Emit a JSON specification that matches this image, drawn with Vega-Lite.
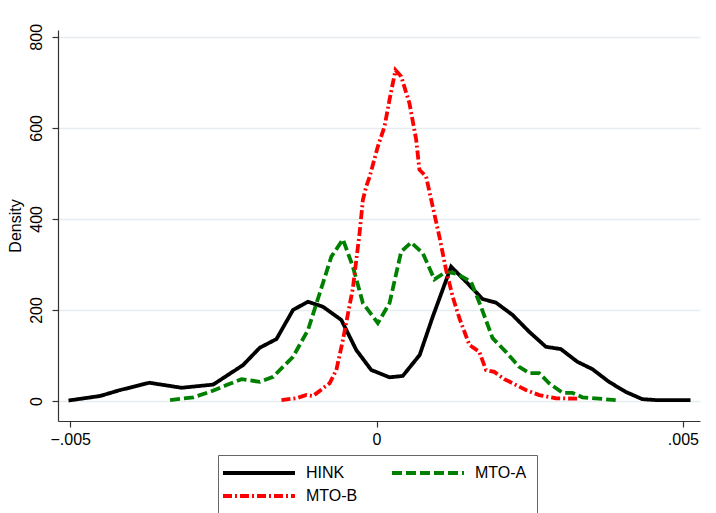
{
  "$schema": "https://vega.github.io/schema/vega-lite/v6.json",
  "width": 642,
  "height": 391,
  "autosize": "none",
  "padding": {"left": 58, "top": 30, "right": 16, "bottom": 92},
  "background": "white",
  "config": {
    "view": {"stroke": null},
    "font": "Liberation Sans"
  },
  "data": {
    "values": [
      {"series": "HINK", "x": -0.005028, "y": 1},
      {"series": "HINK", "x": -0.004511, "y": 11},
      {"series": "HINK", "x": -0.004186, "y": 24},
      {"series": "HINK", "x": -0.003709, "y": 40},
      {"series": "HINK", "x": -0.003181, "y": 29},
      {"series": "HINK", "x": -0.002666, "y": 36},
      {"series": "HINK", "x": -0.002178, "y": 79},
      {"series": "HINK", "x": -0.001906, "y": 117},
      {"series": "HINK", "x": -0.001634, "y": 136},
      {"series": "HINK", "x": -0.001363, "y": 200},
      {"series": "HINK", "x": -0.001119, "y": 218},
      {"series": "HINK", "x": -0.000875, "y": 207},
      {"series": "HINK", "x": -0.000575, "y": 178},
      {"series": "HINK", "x": -0.000331, "y": 112},
      {"series": "HINK", "x": -0.000086, "y": 68},
      {"series": "HINK", "x": 0.000212, "y": 52},
      {"series": "HINK", "x": 0.000428, "y": 55},
      {"series": "HINK", "x": 0.000704, "y": 101},
      {"series": "HINK", "x": 0.000917, "y": 185},
      {"series": "HINK", "x": 0.001217, "y": 295},
      {"series": "HINK", "x": 0.001461, "y": 262},
      {"series": "HINK", "x": 0.001731, "y": 224},
      {"series": "HINK", "x": 0.00195, "y": 216},
      {"series": "HINK", "x": 0.00222, "y": 189},
      {"series": "HINK", "x": 0.002492, "y": 152},
      {"series": "HINK", "x": 0.002764, "y": 119},
      {"series": "HINK", "x": 0.003008, "y": 114},
      {"series": "HINK", "x": 0.003279, "y": 86},
      {"series": "HINK", "x": 0.003523, "y": 70},
      {"series": "HINK", "x": 0.003795, "y": 42},
      {"series": "HINK", "x": 0.004067, "y": 20},
      {"series": "HINK", "x": 0.004337, "y": 4},
      {"series": "HINK", "x": 0.004555, "y": 2},
      {"series": "HINK", "x": 0.005125, "y": 2},
      {"series": "MTO-A", "x": -0.003371, "y": 2},
      {"series": "MTO-A", "x": -0.002992, "y": 8},
      {"series": "MTO-A", "x": -0.00272, "y": 20},
      {"series": "MTO-A", "x": -0.002448, "y": 35},
      {"series": "MTO-A", "x": -0.002204, "y": 48},
      {"series": "MTO-A", "x": -0.001906, "y": 42},
      {"series": "MTO-A", "x": -0.001689, "y": 53},
      {"series": "MTO-A", "x": -0.001363, "y": 97},
      {"series": "MTO-A", "x": -0.001119, "y": 156},
      {"series": "MTO-A", "x": -0.000875, "y": 259},
      {"series": "MTO-A", "x": -0.000738, "y": 317},
      {"series": "MTO-A", "x": -0.000549, "y": 355},
      {"series": "MTO-A", "x": -0.000386, "y": 295},
      {"series": "MTO-A", "x": -0.000223, "y": 215},
      {"series": "MTO-A", "x": 0.000021, "y": 171},
      {"series": "MTO-A", "x": 0.000212, "y": 215},
      {"series": "MTO-A", "x": 0.000402, "y": 328},
      {"series": "MTO-A", "x": 0.000565, "y": 348},
      {"series": "MTO-A", "x": 0.000754, "y": 325},
      {"series": "MTO-A", "x": 0.000945, "y": 267},
      {"series": "MTO-A", "x": 0.001135, "y": 284},
      {"series": "MTO-A", "x": 0.001319, "y": 279},
      {"series": "MTO-A", "x": 0.001542, "y": 262},
      {"series": "MTO-A", "x": 0.001705, "y": 207},
      {"series": "MTO-A", "x": 0.001894, "y": 138},
      {"series": "MTO-A", "x": 0.002112, "y": 108},
      {"series": "MTO-A", "x": 0.002329, "y": 75},
      {"series": "MTO-A", "x": 0.002492, "y": 61},
      {"series": "MTO-A", "x": 0.002655, "y": 61},
      {"series": "MTO-A", "x": 0.002818, "y": 39},
      {"series": "MTO-A", "x": 0.003034, "y": 18},
      {"series": "MTO-A", "x": 0.003197, "y": 18},
      {"series": "MTO-A", "x": 0.00336, "y": 8},
      {"series": "MTO-A", "x": 0.003904, "y": 2},
      {"series": "MTO-B", "x": -0.001552, "y": 2},
      {"series": "MTO-B", "x": -0.001308, "y": 6},
      {"series": "MTO-B", "x": -0.001145, "y": 13},
      {"series": "MTO-B", "x": -0.001037, "y": 11},
      {"series": "MTO-B", "x": -0.000765, "y": 39},
      {"series": "MTO-B", "x": -0.000656, "y": 68},
      {"series": "MTO-B", "x": -0.000549, "y": 134},
      {"series": "MTO-B", "x": -0.000386, "y": 248},
      {"series": "MTO-B", "x": -0.000277, "y": 369},
      {"series": "MTO-B", "x": -0.000223, "y": 442},
      {"series": "MTO-B", "x": -0.000168, "y": 471},
      {"series": "MTO-B", "x": -0.000114, "y": 492},
      {"series": "MTO-B", "x": 0.000021, "y": 559},
      {"series": "MTO-B", "x": 0.00013, "y": 603},
      {"series": "MTO-B", "x": 0.000212, "y": 662},
      {"series": "MTO-B", "x": 0.000309, "y": 727},
      {"series": "MTO-B", "x": 0.000402, "y": 713},
      {"series": "MTO-B", "x": 0.000537, "y": 654},
      {"series": "MTO-B", "x": 0.000647, "y": 574},
      {"series": "MTO-B", "x": 0.0007, "y": 508},
      {"series": "MTO-B", "x": 0.000809, "y": 493},
      {"series": "MTO-B", "x": 0.000917, "y": 427},
      {"series": "MTO-B", "x": 0.001026, "y": 361},
      {"series": "MTO-B", "x": 0.001135, "y": 288},
      {"series": "MTO-B", "x": 0.001243, "y": 229},
      {"series": "MTO-B", "x": 0.001352, "y": 182},
      {"series": "MTO-B", "x": 0.001515, "y": 123},
      {"series": "MTO-B", "x": 0.001678, "y": 108},
      {"series": "MTO-B", "x": 0.001787, "y": 68},
      {"series": "MTO-B", "x": 0.001922, "y": 64},
      {"series": "MTO-B", "x": 0.002085, "y": 48},
      {"series": "MTO-B", "x": 0.00222, "y": 39},
      {"series": "MTO-B", "x": 0.002438, "y": 24},
      {"series": "MTO-B", "x": 0.002655, "y": 13},
      {"series": "MTO-B", "x": 0.002927, "y": 6},
      {"series": "MTO-B", "x": 0.003279, "y": 5}
    ]
  },
  "mark": {"type": "line", "strokeWidth": 3.8, "clip": true},
  "encoding": {
    "x": {
      "field": "x",
      "type": "quantitative",
      "scale": {"domain": [-0.0052, 0.00528], "nice": false, "zero": false},
      "axis": {
        "title": null,
        "values": [-0.005, 0, 0.005],
        "labelExpr": "datum.value == 0 ? '0' : replace(format(datum.value, '.3f'), '0.', '.')",
        "grid": false,
        "domainColor": "#333333",
        "domainWidth": 1.2,
        "tickColor": "#333333",
        "tickSize": 6,
        "tickWidth": 1.2,
        "labelFontSize": 16,
        "labelColor": "#000000",
        "labelPadding": 4,
        "labelFont": "Liberation Sans"
      }
    },
    "y": {
      "field": "y",
      "type": "quantitative",
      "scale": {"domain": [-44, 815], "nice": false, "zero": false},
      "axis": {
        "title": "Density",
        "titleFontSize": 16,
        "titleFontWeight": "normal",
        "titleColor": "#000000",
        "titleFont": "Liberation Sans",
        "titlePadding": 5,
        "values": [0, 200, 400, 600, 800],
        "grid": true,
        "gridColor": "#e6ecef",
        "gridWidth": 1.3,
        "domainColor": "#333333",
        "domainWidth": 1.2,
        "tickColor": "#333333",
        "tickSize": 6,
        "tickWidth": 1.2,
        "labelFontSize": 16,
        "labelColor": "#000000",
        "labelAngle": -90,
        "labelAlign": "center",
        "labelBaseline": "bottom",
        "labelPadding": 8,
        "labelFont": "Liberation Sans"
      }
    },
    "color": {
      "field": "series",
      "type": "nominal",
      "scale": {"domain": ["HINK", "MTO-A", "MTO-B"], "range": ["#000000", "#008000", "#ff0000"]},
      "legend": {
        "title": null,
        "orient": "none",
        "direction": "horizontal",
        "legendX": 160,
        "legendY": 425,
        "columns": 2,
        "symbolType": "M-2.17,0H9.83",
        "symbolSize": 144,
        "symbolStrokeWidth": 3.8,
        "labelFontSize": 16,
        "labelFont": "Liberation Sans",
        "labelColor": "#000000",
        "labelOffset": 62,
        "columnPadding": 26,
        "rowPadding": 7,
        "padding": 10,
        "strokeColor": "#666666",
        "fillColor": "white"
      }
    },
    "strokeDash": {
      "field": "series",
      "type": "nominal",
      "scale": {"domain": ["HINK", "MTO-A", "MTO-B"], "range": [[1, 0], [10, 4], [9, 3, 2, 3]]},
      "legend": null
    }
  }
}
